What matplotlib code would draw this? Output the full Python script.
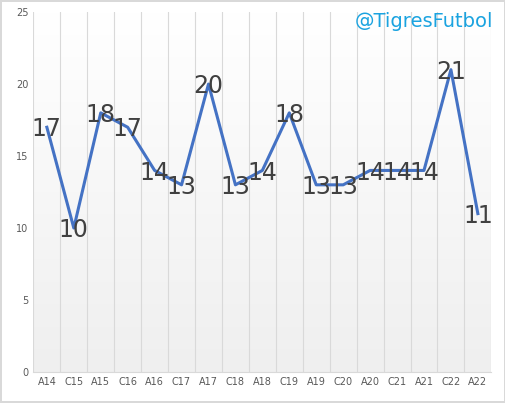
import numpy as np
import matplotlib.pyplot as plt

seasons = ["A14", "C15", "A15", "C16", "A16", "C17", "A17", "C18", "A18",
           "C19", "A19", "C20", "A20", "C21", "A21", "C22", "A22"]
values = [17, 10, 18, 17, 14, 13, 20, 13, 14, 18, 13, 13, 14, 14, 14, 21, 11]

fig = plt.figure(figsize=(5.06, 4.03), dpi=100)
fig.patch.set_edgecolor("#d9d9d9")
fig.patch.set_linewidth(1.5)
ax = fig.add_axes([0.066, 0.077, 0.905, 0.893])

x = np.arange(len(seasons))
ax.set_xlim(-0.5, len(seasons) - 0.5)
ax.set_ylim(0, 25)

# soft gradient background, white at top to light grey at the bottom
grad = np.linspace(1.0, 0.0, 256).reshape(-1, 1)
ax.imshow(grad, extent=[-0.5, len(seasons) - 0.5, 0, 25], aspect="auto",
          cmap=plt.matplotlib.colors.LinearSegmentedColormap.from_list(
              "g", ["#efefef", "#ffffff"]), origin="upper", zorder=0)
for b in np.arange(-0.5, len(seasons), 1.0):
    ax.axvline(b, color="#d9d9d9", lw=0.8, zorder=1)

ax.plot(x, values, color="#4472C4", lw=2.2, zorder=3)
for xi, v in zip(x, values):
    ax.text(xi, v - 0.15, str(v), ha="center", va="center", fontsize=17,
            color="#404040", zorder=4)

ax.set_xticks(x)
ax.set_xticklabels(seasons)
ax.set_yticks(range(0, 26, 5))
ax.tick_params(length=0, labelsize=7, colors="#595959")
for s in ["top", "right", "left"]:
    ax.spines[s].set_visible(False)
ax.spines["bottom"].set_color("#d9d9d9")

fig.text(0.975, 0.97, "@TigresFutbol", ha="right", va="top",
         fontsize=14, color="#1AA3E0")

fig.savefig("out.png", dpi=100, edgecolor=fig.get_edgecolor())
